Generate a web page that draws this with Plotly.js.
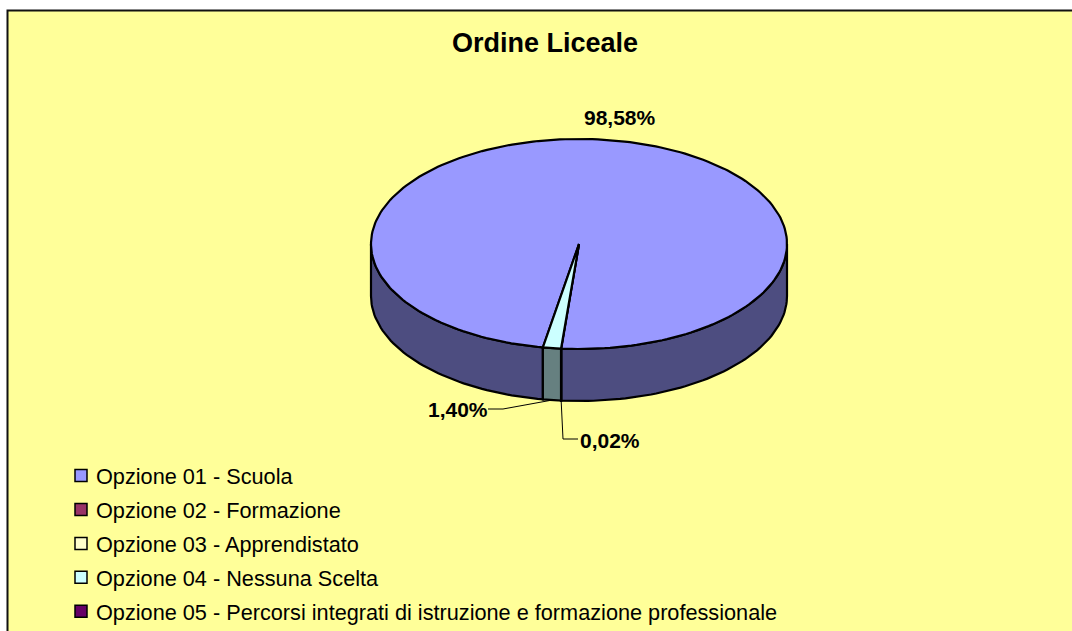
<!DOCTYPE html>
<html>
<head>
<meta charset="utf-8">
<script src="https://cdn.plot.ly/plotly-3.0.1.min.js"></script>
<style>html,body{margin:0;padding:0;background:#fff;overflow:hidden}#chart{width:1072px;height:631px}</style>
</head>
<body>
<div id="chart"></div>
<script>
// Data
var categories = ['Opzione 01 - Scuola', 'Opzione 02 - Formazione', 'Opzione 03 - Apprendistato',
  'Opzione 04 - Nessuna Scelta', 'Opzione 05 - Percorsi integrati di istruzione e formazione professionale'];
var values = [98.58, 0, 0.02, 1.40, 0];
var topColors = ['#9999FF', '#993366', '#FFFFCC', '#CCFFFF', '#660066'];
var sideColors = ['#4D4D80', '#4D1A33', '#808066', '#668080', '#330033'];
var chartTitle = 'Ordine Liceale';

// Pie geometry (pixels of the page-sized axes)
var cx = 579, cy = 244, rx = 208, ry = 105, depth = 52, firstAngle = 190;
var FONT = 'Liberation Sans, Arial, sans-serif';
var labelPlaces = {0: {x: 620, y: 117}, 2: {x: 610, y: 440}, 3: {x: 458, y: 409}};
var leaderElbows = {
  2: [[563, 439], [578, 439]],
  3: [[503, 409], [488, 409]]
};

function px(a) { return cx + rx * Math.sin(a * Math.PI / 180); }
function py(a, dz) { return cy - ry * Math.cos(a * Math.PI / 180) + (dz || 0); }
function range(a0, a1) {
  var out = [], n = Math.max(1, Math.ceil((a1 - a0) / 1.5));
  for (var i = 0; i <= n; i++) out.push(a0 + (a1 - a0) * i / n);
  return out;
}

var total = values.reduce(function (s, v) { return s + v; }, 0);
var sliceTraces = [], sideTraces = [], labelAnns = [], leaderTraces = [];
var start = firstAngle;

values.forEach(function (v, i) {
  var span = v / total * 360, end = start + span, mid = start + span / 2;
  if (v > 0) {
    // top face
    var arc = range(start, end);
    sliceTraces.push({
      type: 'scatter', mode: 'lines', fill: 'toself', fillcolor: topColors[i],
      x: [cx].concat(arc.map(function (a) { return px(a); }), [cx]),
      y: [cy].concat(arc.map(function (a) { return py(a); }), [cy]),
      line: {color: '#000', width: 2.2}, showlegend: false, hoverinfo: 'skip'
    });
    // visible front wall: the part of the slice between 90 and 270 degrees
    for (var k = 0; k <= 1; k++) {
      var lo = Math.max(start, 90 + 360 * k), hi = Math.min(end, 270 + 360 * k);
      if (hi > lo) {
        var wall = range(lo, hi), back = wall.slice().reverse();
        sideTraces.push({
          type: 'scatter', mode: 'lines', fill: 'toself', fillcolor: sideColors[i],
          x: wall.map(function (a) { return px(a); }).concat(back.map(function (a) { return px(a); }), [px(lo)]),
          y: wall.map(function (a) { return py(a); }).concat(back.map(function (a) { return py(a, depth); }), [py(lo)]),
          line: {color: '#000', width: 2.2}, showlegend: false, hoverinfo: 'skip'
        });
      }
    }
    // leader line
    if (leaderElbows[i]) {
      var pts = [[px(mid), py(mid, depth)]].concat(leaderElbows[i]);
      leaderTraces.push({
        type: 'scatter', mode: 'lines',
        x: pts.map(function (p) { return p[0]; }), y: pts.map(function (p) { return p[1]; }),
        line: {color: '#000', width: 1}, showlegend: false, hoverinfo: 'skip'
      });
    }
    // value label
    labelAnns.push({
      xref: 'x', yref: 'y', x: labelPlaces[i].x, y: labelPlaces[i].y,
      text: '<b>' + v.toFixed(2).replace('.', ',') + '%</b>', showarrow: false,
      xanchor: 'center', yanchor: 'middle', font: {family: FONT, size: 21, color: '#000'}
    });
  }
  start = end;
});

var legendTraces = categories.map(function (c, i) {
  return {
    type: 'scatter', mode: 'markers', x: [null], y: [null], name: c, legendgroup: 'g' + i,
    marker: {symbol: 'square', size: 12, color: topColors[i], line: {color: '#000', width: 1.5}},
    hoverinfo: 'skip'
  };
});

var layout = {
  width: 1072, height: 631,
  margin: {l: 0, r: 0, t: 0, b: 0, autoexpand: false},
  paper_bgcolor: '#FFFFFF', plot_bgcolor: 'rgba(0,0,0,0)',
  xaxis: {range: [0, 1072], visible: false, fixedrange: true},
  yaxis: {range: [631, 0], visible: false, fixedrange: true},
  title: {
    text: '<b>' + chartTitle + '</b>', x: 545 / 1072, y: 1 - 43 / 631,
    xanchor: 'center', yanchor: 'middle', font: {family: FONT, size: 27, color: '#000'}
  },
  shapes: [{
    type: 'rect', xref: 'x', yref: 'y', x0: 7.5, y0: 10.5, x1: 1090, y1: 650,
    fillcolor: '#FFFF99', line: {color: '#111', width: 2}, layer: 'below'
  }],
  annotations: labelAnns,
  showlegend: true,
  legend: {
    x: 56 / 1072, y: 1 - 455 / 631, xanchor: 'left', yanchor: 'top',
    bgcolor: 'rgba(0,0,0,0)', traceorder: 'grouped', tracegroupgap: 2.7,
    font: {family: FONT, size: 21.7, color: '#000'}
  }
};

Plotly.newPlot('chart', sideTraces.concat(sliceTraces, leaderTraces, legendTraces), layout,
  {displayModeBar: false, responsive: false, staticPlot: true}).then(function (gd) {
    // The reference keeps its legend swatches closer to the text
    gd.querySelectorAll('.legendsymbols').forEach(function (el) {
      el.setAttribute('transform', 'translate(5,0)');
    });
  });
</script>
</body>
</html>
